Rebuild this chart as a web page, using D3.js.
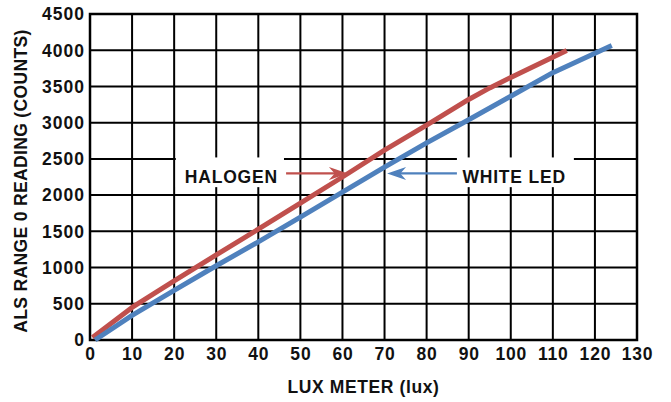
<!DOCTYPE html>
<html>
<head>
<meta charset="utf-8">
<script src="https://cdn.jsdelivr.net/npm/d3@7"></script>
<style>
  html, body { margin: 0; padding: 0; background: #fff; }
  svg text { font-family: "Liberation Sans", Arial, sans-serif; font-weight: bold; fill: #111; }
</style>
</head>
<body>
<svg id="chart" width="671" height="402"></svg>
<script>
// lux meter readings vs ALS counts
const halogenLux    = [0.6, 10, 20, 30, 40, 50, 60, 70, 80, 90, 95, 100, 113.3];
const halogenCounts = [35, 450, 815, 1175, 1530, 1890, 2250, 2620, 2965, 3320, 3480, 3625, 3995];
const ledLux    = [1.2, 10, 20, 30, 40, 50, 60, 70, 80, 90, 100, 110, 124];
const ledCounts = [0, 340, 685, 1025, 1355, 1695, 2040, 2385, 2720, 3040, 3365, 3690, 4065];

const xTicks = d3.range(0, 131, 10);
const yTicks = d3.range(0, 4501, 500);

// series labels with their white boxes
const labelNames = ["HALOGEN", "WHITE LED"];
const labelBoxLux = [[20.4, 46.1], [87.2, 115.0]];
const labelBoxCount = [2520, 2110];
const labelTextLux = [33.6, 100.8];
const labelTextCount = 2250;
// arrows: from lux -> to lux at a given count
const arrowFromLux = [46.6, 87.2];
const arrowToLux = [61.3, 70.6];
const arrowCount = 2300;

const red = "#c0504d";
const blue = "#4f81bd";

const width = 671, height = 402;
const marginTop = 14, marginRight = 34, marginBottom = 62, marginLeft = 90;

const svg = d3.select("#chart");

const x = d3.scaleLinear().domain([0, 130]).range([marginLeft, width - marginRight]);
const y = d3.scaleLinear().domain([0, 4500]).range([height - marginBottom, marginTop]);

// grid
svg.append("g")
  .selectAll("line")
  .data(xTicks)
  .join("line")
    .attr("x1", d => x(d)).attr("x2", d => x(d))
    .attr("y1", y(0)).attr("y2", y(4500))
    .attr("stroke", "#000").attr("stroke-width", 2);

svg.append("g")
  .selectAll("line")
  .data(yTicks)
  .join("line")
    .attr("x1", x(0)).attr("x2", x(130))
    .attr("y1", d => y(d)).attr("y2", d => y(d))
    .attr("stroke", "#000").attr("stroke-width", 2);

svg.append("rect")
  .attr("x", x(0)).attr("y", y(4500))
  .attr("width", x(130) - x(0)).attr("height", y(0) - y(4500))
  .attr("fill", "none").attr("stroke", "#000").attr("stroke-width", 2.5);

// tick labels
svg.append("g")
  .selectAll("text")
  .data(yTicks)
  .join("text")
    .attr("x", x(0) - 5)
    .attr("y", d => y(d))
    .attr("dy", "0.36em")
    .attr("text-anchor", "end")
    .attr("font-size", 17.5)
    .attr("letter-spacing", 1)
    .text(d => d);

svg.append("g")
  .selectAll("text")
  .data(xTicks)
  .join("text")
    .attr("x", d => x(d) + 0.5)
    .attr("y", y(0) + 20)
    .attr("text-anchor", "middle")
    .attr("font-size", 17.5)
    .attr("letter-spacing", 0.8)
    .text(d => d);

// axis titles
svg.append("text")
  .attr("x", (x(0) + x(130)) / 2)
  .attr("y", height - 9)
  .attr("text-anchor", "middle")
  .attr("font-size", 17.5)
  .attr("letter-spacing", 0.6)
  .text("LUX METER (lux)");

svg.append("text")
  .attr("transform", `translate(27,${(y(0) + y(4500)) / 2 + 4}) rotate(-90)`)
  .attr("text-anchor", "middle")
  .attr("font-size", 17.5)
  .attr("letter-spacing", 0.35)
  .text("ALS RANGE 0 READING (COUNTS)");

// label boxes (white, hide grid behind text)
labelNames.forEach((name, i) => {
  svg.append("rect")
    .attr("x", x(labelBoxLux[i][0]))
    .attr("y", y(labelBoxCount[0]))
    .attr("width", x(labelBoxLux[i][1]) - x(labelBoxLux[i][0]))
    .attr("height", y(labelBoxCount[1]) - y(labelBoxCount[0]))
    .attr("fill", "#fff");
  svg.append("text")
    .attr("x", x(labelTextLux[i]))
    .attr("y", y(labelTextCount))
    .attr("dy", "0.36em")
    .attr("text-anchor", "middle")
    .attr("font-size", 17.5)
    .attr("letter-spacing", 0.8)
    .text(name);
});

// series lines
const line = d3.line()
  .x(d => x(d[0]))
  .y(d => y(d[1]));

const series = [
  { pts: d3.zip(halogenLux, halogenCounts), color: red },
  { pts: d3.zip(ledLux, ledCounts), color: blue }
];

svg.append("g")
  .selectAll("path")
  .data(series)
  .join("path")
    .attr("d", d => line(d.pts))
    .attr("fill", "none")
    .attr("stroke", d => d.color)
    .attr("stroke-width", 5)
    .attr("stroke-linejoin", "round");

// arrows
const arrowColors = [red, blue];
arrowFromLux.forEach((fromLux, i) => {
  const x0 = x(fromLux), x1 = x(arrowToLux[i]), yy = y(arrowCount);
  const dir = x1 > x0 ? 1 : -1;
  const headLen = 19, headHalf = 6.5;
  svg.append("line")
    .attr("x1", x0).attr("x2", x1 - dir * headLen * 0.6)
    .attr("y1", yy).attr("y2", yy)
    .attr("stroke", arrowColors[i]).attr("stroke-width", 2.2);
  svg.append("path")
    .attr("d", `M${x1},${yy} L${x1 - dir * headLen},${yy - headHalf} L${x1 - dir * headLen * 0.7},${yy} L${x1 - dir * headLen},${yy + headHalf} Z`)
    .attr("fill", arrowColors[i]);
});
</script>
</body>
</html>
